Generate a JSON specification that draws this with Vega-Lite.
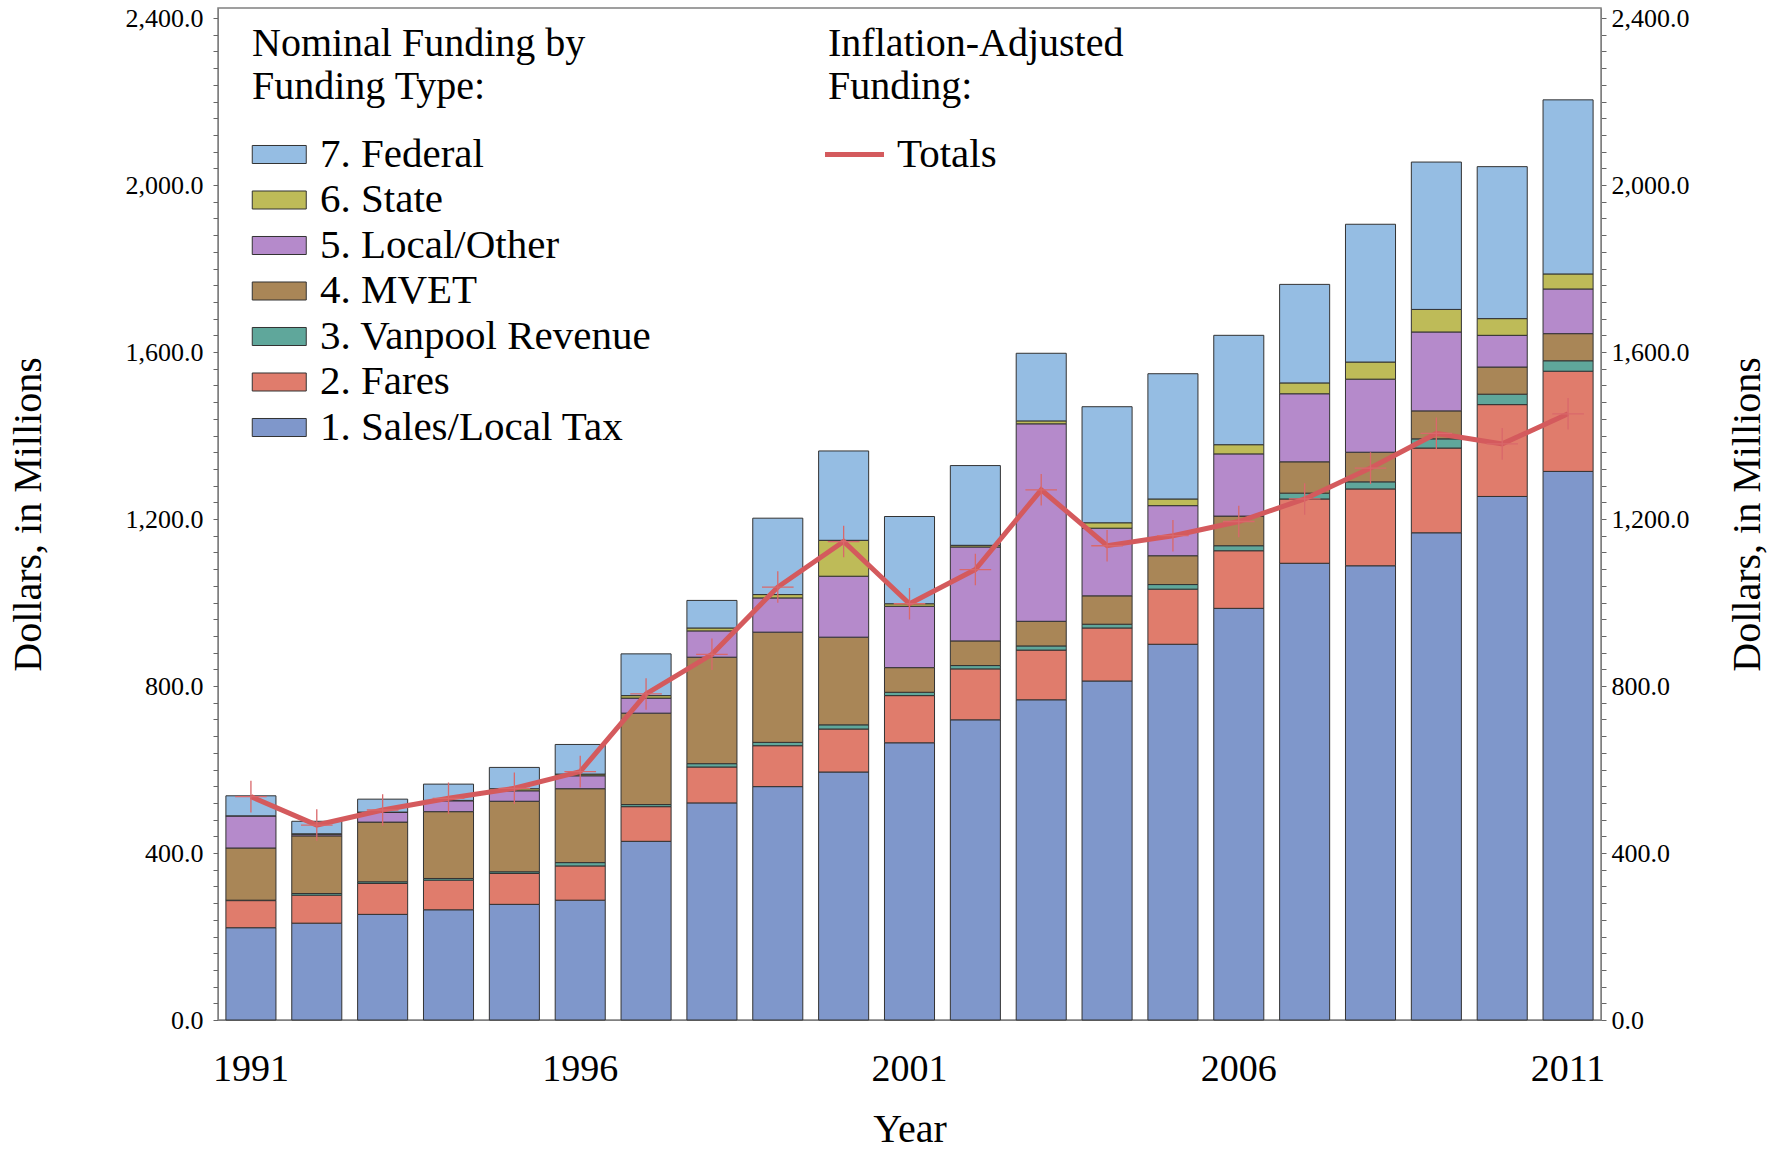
{
  "$schema": "https://vega.github.io/schema/vega-lite/v6.json",
  "autosize": {"type": "none"},
  "width": 1383,
  "height": 1012,
  "padding": {"left": 218, "top": 8, "right": 178, "bottom": 129},
  "background": "white",
  "config": {
    "view": {"stroke": "#808080", "strokeWidth": 1.5},
    "font": "Liberation Serif",
    "axis": {"labelFont": "Liberation Serif", "titleFont": "Liberation Serif", "labelColor": "#000", "titleColor": "#000", "titleFontWeight": "normal", "grid": false, "domainColor": "#808080", "tickColor": "#666666"},
    "legend": {"labelFont": "Liberation Serif", "titleFont": "Liberation Serif", "titleFontWeight": "normal", "labelColor": "#000", "titleColor": "#000", "padding": 0, "labelLimit": 0, "titleLimit": 0}
  },
  "datasets": {
    "funding": [
      {"year": 1991, "type": "1. Sales/Local Tax", "k": 1, "value": 221},
      {"year": 1991, "type": "2. Fares", "k": 2, "value": 65},
      {"year": 1991, "type": "3. Vanpool Revenue", "k": 3, "value": 1},
      {"year": 1991, "type": "4. MVET", "k": 4, "value": 125},
      {"year": 1991, "type": "5. Local/Other", "k": 5, "value": 77},
      {"year": 1991, "type": "6. State", "k": 6, "value": 0},
      {"year": 1991, "type": "7. Federal", "k": 7, "value": 48},
      {"year": 1992, "type": "1. Sales/Local Tax", "k": 1, "value": 232},
      {"year": 1992, "type": "2. Fares", "k": 2, "value": 67},
      {"year": 1992, "type": "3. Vanpool Revenue", "k": 3, "value": 4},
      {"year": 1992, "type": "4. MVET", "k": 4, "value": 138},
      {"year": 1992, "type": "5. Local/Other", "k": 5, "value": 4},
      {"year": 1992, "type": "6. State", "k": 6, "value": 1},
      {"year": 1992, "type": "7. Federal", "k": 7, "value": 30},
      {"year": 1993, "type": "1. Sales/Local Tax", "k": 1, "value": 253},
      {"year": 1993, "type": "2. Fares", "k": 2, "value": 74},
      {"year": 1993, "type": "3. Vanpool Revenue", "k": 3, "value": 4},
      {"year": 1993, "type": "4. MVET", "k": 4, "value": 143},
      {"year": 1993, "type": "5. Local/Other", "k": 5, "value": 23},
      {"year": 1993, "type": "6. State", "k": 6, "value": 1},
      {"year": 1993, "type": "7. Federal", "k": 7, "value": 31},
      {"year": 1994, "type": "1. Sales/Local Tax", "k": 1, "value": 264},
      {"year": 1994, "type": "2. Fares", "k": 2, "value": 71},
      {"year": 1994, "type": "3. Vanpool Revenue", "k": 3, "value": 4},
      {"year": 1994, "type": "4. MVET", "k": 4, "value": 160},
      {"year": 1994, "type": "5. Local/Other", "k": 5, "value": 26},
      {"year": 1994, "type": "6. State", "k": 6, "value": 1},
      {"year": 1994, "type": "7. Federal", "k": 7, "value": 39},
      {"year": 1995, "type": "1. Sales/Local Tax", "k": 1, "value": 277},
      {"year": 1995, "type": "2. Fares", "k": 2, "value": 74},
      {"year": 1995, "type": "3. Vanpool Revenue", "k": 3, "value": 4},
      {"year": 1995, "type": "4. MVET", "k": 4, "value": 169},
      {"year": 1995, "type": "5. Local/Other", "k": 5, "value": 25},
      {"year": 1995, "type": "6. State", "k": 6, "value": 5},
      {"year": 1995, "type": "7. Federal", "k": 7, "value": 51},
      {"year": 1996, "type": "1. Sales/Local Tax", "k": 1, "value": 287},
      {"year": 1996, "type": "2. Fares", "k": 2, "value": 82},
      {"year": 1996, "type": "3. Vanpool Revenue", "k": 3, "value": 8},
      {"year": 1996, "type": "4. MVET", "k": 4, "value": 177},
      {"year": 1996, "type": "5. Local/Other", "k": 5, "value": 31},
      {"year": 1996, "type": "6. State", "k": 6, "value": 4},
      {"year": 1996, "type": "7. Federal", "k": 7, "value": 71},
      {"year": 1997, "type": "1. Sales/Local Tax", "k": 1, "value": 428},
      {"year": 1997, "type": "2. Fares", "k": 2, "value": 83},
      {"year": 1997, "type": "3. Vanpool Revenue", "k": 3, "value": 5},
      {"year": 1997, "type": "4. MVET", "k": 4, "value": 219},
      {"year": 1997, "type": "5. Local/Other", "k": 5, "value": 36},
      {"year": 1997, "type": "6. State", "k": 6, "value": 6},
      {"year": 1997, "type": "7. Federal", "k": 7, "value": 100},
      {"year": 1998, "type": "1. Sales/Local Tax", "k": 1, "value": 520},
      {"year": 1998, "type": "2. Fares", "k": 2, "value": 86},
      {"year": 1998, "type": "3. Vanpool Revenue", "k": 3, "value": 8},
      {"year": 1998, "type": "4. MVET", "k": 4, "value": 255},
      {"year": 1998, "type": "5. Local/Other", "k": 5, "value": 63},
      {"year": 1998, "type": "6. State", "k": 6, "value": 7},
      {"year": 1998, "type": "7. Federal", "k": 7, "value": 66},
      {"year": 1999, "type": "1. Sales/Local Tax", "k": 1, "value": 559},
      {"year": 1999, "type": "2. Fares", "k": 2, "value": 98},
      {"year": 1999, "type": "3. Vanpool Revenue", "k": 3, "value": 8},
      {"year": 1999, "type": "4. MVET", "k": 4, "value": 264},
      {"year": 1999, "type": "5. Local/Other", "k": 5, "value": 82},
      {"year": 1999, "type": "6. State", "k": 6, "value": 8},
      {"year": 1999, "type": "7. Federal", "k": 7, "value": 183},
      {"year": 2000, "type": "1. Sales/Local Tax", "k": 1, "value": 594},
      {"year": 2000, "type": "2. Fares", "k": 2, "value": 103},
      {"year": 2000, "type": "3. Vanpool Revenue", "k": 3, "value": 10},
      {"year": 2000, "type": "4. MVET", "k": 4, "value": 210},
      {"year": 2000, "type": "5. Local/Other", "k": 5, "value": 146},
      {"year": 2000, "type": "6. State", "k": 6, "value": 86},
      {"year": 2000, "type": "7. Federal", "k": 7, "value": 214},
      {"year": 2001, "type": "1. Sales/Local Tax", "k": 1, "value": 664},
      {"year": 2001, "type": "2. Fares", "k": 2, "value": 113},
      {"year": 2001, "type": "3. Vanpool Revenue", "k": 3, "value": 8},
      {"year": 2001, "type": "4. MVET", "k": 4, "value": 59},
      {"year": 2001, "type": "5. Local/Other", "k": 5, "value": 147},
      {"year": 2001, "type": "6. State", "k": 6, "value": 6},
      {"year": 2001, "type": "7. Federal", "k": 7, "value": 209},
      {"year": 2002, "type": "1. Sales/Local Tax", "k": 1, "value": 719},
      {"year": 2002, "type": "2. Fares", "k": 2, "value": 122},
      {"year": 2002, "type": "3. Vanpool Revenue", "k": 3, "value": 8},
      {"year": 2002, "type": "4. MVET", "k": 4, "value": 59},
      {"year": 2002, "type": "5. Local/Other", "k": 5, "value": 225},
      {"year": 2002, "type": "6. State", "k": 6, "value": 4},
      {"year": 2002, "type": "7. Federal", "k": 7, "value": 191},
      {"year": 2003, "type": "1. Sales/Local Tax", "k": 1, "value": 767},
      {"year": 2003, "type": "2. Fares", "k": 2, "value": 119},
      {"year": 2003, "type": "3. Vanpool Revenue", "k": 3, "value": 10},
      {"year": 2003, "type": "4. MVET", "k": 4, "value": 59},
      {"year": 2003, "type": "5. Local/Other", "k": 5, "value": 473},
      {"year": 2003, "type": "6. State", "k": 6, "value": 7},
      {"year": 2003, "type": "7. Federal", "k": 7, "value": 162},
      {"year": 2004, "type": "1. Sales/Local Tax", "k": 1, "value": 812},
      {"year": 2004, "type": "2. Fares", "k": 2, "value": 127},
      {"year": 2004, "type": "3. Vanpool Revenue", "k": 3, "value": 9},
      {"year": 2004, "type": "4. MVET", "k": 4, "value": 68},
      {"year": 2004, "type": "5. Local/Other", "k": 5, "value": 162},
      {"year": 2004, "type": "6. State", "k": 6, "value": 13},
      {"year": 2004, "type": "7. Federal", "k": 7, "value": 278},
      {"year": 2005, "type": "1. Sales/Local Tax", "k": 1, "value": 900},
      {"year": 2005, "type": "2. Fares", "k": 2, "value": 132},
      {"year": 2005, "type": "3. Vanpool Revenue", "k": 3, "value": 11},
      {"year": 2005, "type": "4. MVET", "k": 4, "value": 69},
      {"year": 2005, "type": "5. Local/Other", "k": 5, "value": 120},
      {"year": 2005, "type": "6. State", "k": 6, "value": 16},
      {"year": 2005, "type": "7. Federal", "k": 7, "value": 300},
      {"year": 2006, "type": "1. Sales/Local Tax", "k": 1, "value": 986},
      {"year": 2006, "type": "2. Fares", "k": 2, "value": 138},
      {"year": 2006, "type": "3. Vanpool Revenue", "k": 3, "value": 12},
      {"year": 2006, "type": "4. MVET", "k": 4, "value": 71},
      {"year": 2006, "type": "5. Local/Other", "k": 5, "value": 149},
      {"year": 2006, "type": "6. State", "k": 6, "value": 22},
      {"year": 2006, "type": "7. Federal", "k": 7, "value": 262},
      {"year": 2007, "type": "1. Sales/Local Tax", "k": 1, "value": 1094},
      {"year": 2007, "type": "2. Fares", "k": 2, "value": 154},
      {"year": 2007, "type": "3. Vanpool Revenue", "k": 3, "value": 14},
      {"year": 2007, "type": "4. MVET", "k": 4, "value": 75},
      {"year": 2007, "type": "5. Local/Other", "k": 5, "value": 163},
      {"year": 2007, "type": "6. State", "k": 6, "value": 26},
      {"year": 2007, "type": "7. Federal", "k": 7, "value": 236},
      {"year": 2008, "type": "1. Sales/Local Tax", "k": 1, "value": 1088},
      {"year": 2008, "type": "2. Fares", "k": 2, "value": 184},
      {"year": 2008, "type": "3. Vanpool Revenue", "k": 3, "value": 17},
      {"year": 2008, "type": "4. MVET", "k": 4, "value": 71},
      {"year": 2008, "type": "5. Local/Other", "k": 5, "value": 175},
      {"year": 2008, "type": "6. State", "k": 6, "value": 41},
      {"year": 2008, "type": "7. Federal", "k": 7, "value": 330},
      {"year": 2009, "type": "1. Sales/Local Tax", "k": 1, "value": 1167},
      {"year": 2009, "type": "2. Fares", "k": 2, "value": 203},
      {"year": 2009, "type": "3. Vanpool Revenue", "k": 3, "value": 22},
      {"year": 2009, "type": "4. MVET", "k": 4, "value": 67},
      {"year": 2009, "type": "5. Local/Other", "k": 5, "value": 189},
      {"year": 2009, "type": "6. State", "k": 6, "value": 54},
      {"year": 2009, "type": "7. Federal", "k": 7, "value": 353},
      {"year": 2010, "type": "1. Sales/Local Tax", "k": 1, "value": 1254},
      {"year": 2010, "type": "2. Fares", "k": 2, "value": 220},
      {"year": 2010, "type": "3. Vanpool Revenue", "k": 3, "value": 25},
      {"year": 2010, "type": "4. MVET", "k": 4, "value": 65},
      {"year": 2010, "type": "5. Local/Other", "k": 5, "value": 76},
      {"year": 2010, "type": "6. State", "k": 6, "value": 40},
      {"year": 2010, "type": "7. Federal", "k": 7, "value": 364},
      {"year": 2011, "type": "1. Sales/Local Tax", "k": 1, "value": 1314},
      {"year": 2011, "type": "2. Fares", "k": 2, "value": 240},
      {"year": 2011, "type": "3. Vanpool Revenue", "k": 3, "value": 25},
      {"year": 2011, "type": "4. MVET", "k": 4, "value": 65},
      {"year": 2011, "type": "5. Local/Other", "k": 5, "value": 107},
      {"year": 2011, "type": "6. State", "k": 6, "value": 36},
      {"year": 2011, "type": "7. Federal", "k": 7, "value": 417}
    ],
    "totals": [
      {"year": 1991, "total": 535},
      {"year": 1992, "total": 467},
      {"year": 1993, "total": 503},
      {"year": 1994, "total": 531},
      {"year": 1995, "total": 555},
      {"year": 1996, "total": 595},
      {"year": 1997, "total": 781},
      {"year": 1998, "total": 876},
      {"year": 1999, "total": 1037},
      {"year": 2000, "total": 1146},
      {"year": 2001, "total": 997},
      {"year": 2002, "total": 1079},
      {"year": 2003, "total": 1270},
      {"year": 2004, "total": 1136},
      {"year": 2005, "total": 1160},
      {"year": 2006, "total": 1194},
      {"year": 2007, "total": 1248},
      {"year": 2008, "total": 1322},
      {"year": 2009, "total": 1405},
      {"year": 2010, "total": 1380},
      {"year": 2011, "total": 1452}
    ]
  },
  "encoding": {
    "x": {
      "field": "year",
      "type": "ordinal",
      "scale": {"paddingInner": 0.24, "paddingOuter": 0.12},
      "axis": {
        "values": [1991, 1996, 2001, 2006, 2011],
        "labelAngle": 0,
        "ticks": false,
        "tickSize": 0,
        "labelFontSize": 38,
        "labelPadding": 60,
        "labelBaseline": "alphabetic",
        "domainColor": "#808080",
        "title": "Year",
        "titleFontSize": 40,
        "titleY": 121,
        "titleBaseline": "alphabetic"
      }
    }
  },
  "layer": [
    {
      "data": {"name": "funding"},
      "mark": {"type": "bar", "stroke": "#333333", "strokeWidth": 1},
      "encoding": {
        "y": {
          "field": "value",
          "type": "quantitative",
          "stack": "zero",
          "scale": {"domain": [0, 2424], "nice": false},
          "axis": {
            "orient": "left",
            "values": [0,40,80,120,160,200,240,280,320,360,400,440,480,520,560,600,640,680,720,760,800,840,880,920,960,1000,1040,1080,1120,1160,1200,1240,1280,1320,1360,1400,1440,1480,1520,1560,1600,1640,1680,1720,1760,1800,1840,1880,1920,1960,2000,2040,2080,2120,2160,2200,2240,2280,2320,2360,2400],
            "labelExpr": "datum.value % 400 === 0 ? format(datum.value, ',.1f') : ''",
            "labelOverlap": false,
            "labelFontSize": 26,
            "labelPadding": 10,
            "tickSize": 5,
            "title": "Dollars, in Millions",
            "titleFontSize": 40,
            "titleAngle": 270,
            "titleX": -190,
            "titleY": 506,
            "titleBaseline": "middle",
            "titleAlign": "center"
          }
        },
        "color": {
          "field": "type",
          "type": "nominal",
          "scale": {
            "domain": ["7. Federal", "6. State", "5. Local/Other", "4. MVET", "3. Vanpool Revenue", "2. Fares", "1. Sales/Local Tax"],
            "range": ["#95bde3", "#bebb58", "#b58acb", "#a98657", "#5fa79b", "#e07c6c", "#7f97cb"]
          },
          "legend": {
            "title": ["Nominal Funding by", "Funding Type:"],
            "orient": "none",
            "legendX": 34,
            "legendY": 16,
            "titleFontSize": 40,
            "titleLineHeight": 43,
            "titlePadding": 27,
            "labelFontSize": 41,
            "labelOffset": 27,
            "rowPadding": 3.5,
            "symbolType": "M-1.5,-0.667H2.5V0.667H-1.5Z",
            "symbolSize": 729,
            "symbolStrokeColor": "#333333",
            "symbolStrokeWidth": 1,
            "symbolOpacity": 1
          }
        },
        "order": {"field": "k", "type": "quantitative", "sort": "ascending"}
      }
    },
    {
      "data": {"name": "totals"},
      "mark": {"type": "line", "strokeWidth": 5, "interpolate": "linear"},
      "encoding": {
        "y": {
          "field": "total",
          "type": "quantitative",
          "scale": {"domain": [0, 2424], "nice": false},
          "axis": {
            "orient": "right",
            "values": [0,40,80,120,160,200,240,280,320,360,400,440,480,520,560,600,640,680,720,760,800,840,880,920,960,1000,1040,1080,1120,1160,1200,1240,1280,1320,1360,1400,1440,1480,1520,1560,1600,1640,1680,1720,1760,1800,1840,1880,1920,1960,2000,2040,2080,2120,2160,2200,2240,2280,2320,2360,2400],
            "labelExpr": "datum.value % 400 === 0 ? format(datum.value, ',.1f') : ''",
            "labelOverlap": false,
            "labelFontSize": 26,
            "labelPadding": 5,
            "tickSize": 5,
            "title": "Dollars, in Millions",
            "titleFontSize": 40,
            "titleAngle": 270,
            "titleX": 146,
            "titleY": 506,
            "titleBaseline": "middle",
            "titleAlign": "center"
          }
        },
        "stroke": {
          "datum": "Totals",
          "scale": {"domain": ["Totals"], "range": ["#d45a5d"]},
          "legend": {
            "title": ["Inflation-Adjusted", "Funding:"],
            "orient": "none",
            "legendX": 610,
            "legendY": 16,
            "titleFontSize": 40,
            "titleLineHeight": 43,
            "titlePadding": 27,
            "labelFontSize": 41,
            "labelOffset": 28,
            "symbolType": "M-1.74,0H2.63",
            "symbolSize": 729,
            "symbolStrokeWidth": 5
          }
        }
      }
    },
    {
      "data": {"name": "totals"},
      "mark": {"type": "point", "shape": "M-1,0H1M0,-1V1", "size": 1000, "filled": false, "stroke": "#d9686b", "strokeWidth": 1.3, "opacity": 1},
      "encoding": {
        "y": {
          "field": "total",
          "type": "quantitative",
          "scale": {"domain": [0, 2424], "nice": false},
          "axis": null
        }
      }
    }
  ],
  "resolve": {"scale": {"y": "independent"}}
}
